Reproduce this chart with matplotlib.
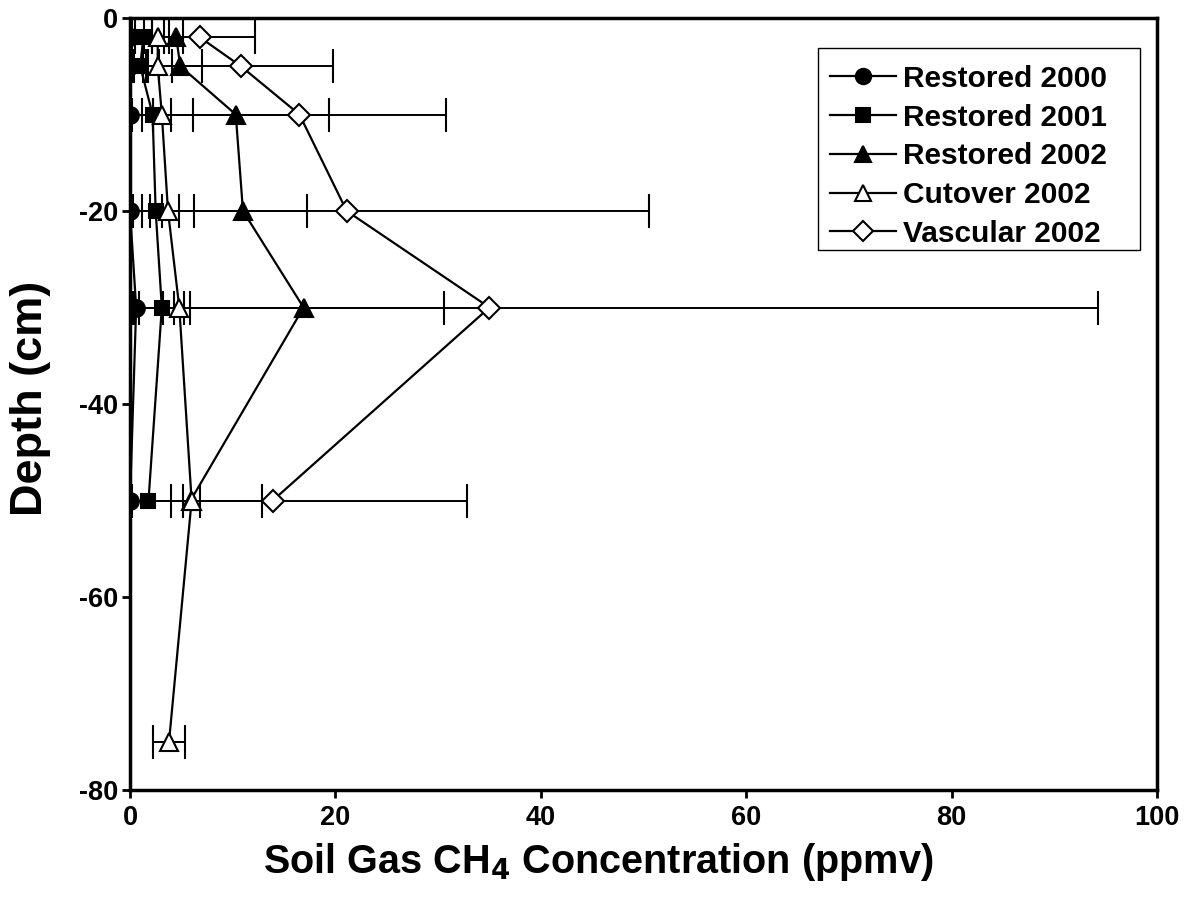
import matplotlib
matplotlib.use("Agg")
import matplotlib.pyplot as plt
from matplotlib.lines import Line2D
from matplotlib.patches import Rectangle

plt.rcParams['font.family'] = ['Liberation Sans', 'DejaVu Sans']
plt.rcParams['font.weight'] = 'bold'
plt.rcParams['axes.unicode_minus'] = False
plt.rcParams['mathtext.default'] = 'bf'

# Sampling depths (cm)
depth_main = [-2, -5, -10, -20, -30, -50]
depth_cutover = [-2, -5, -10, -20, -30, -50, -75]

# Mean CH4 concentration (ppmv) and error (+/-)
restored_2000 = [0.0, 0.0, 0.0, 0.0, 0.6, 0.0]
restored_2000_err = [0.2, 0.2, 0.2, 0.3, 0.3, 0.2]

restored_2001 = [1.3, 1.0, 2.2, 2.5, 3.1, 1.8]
restored_2001_err = [0.8, 0.6, 3.9, 0.6, 2.7, 2.2]

restored_2002 = [4.5, 4.9, 10.3, 11.0, 16.9, 5.9]
restored_2002_err = [0.7, 2.1, 9.1, 6.2, 13.7, 7.0]

cutover_2002 = [2.7, 2.7, 3.1, 3.7, 4.8, 6.0, 3.8]
cutover_2002_err = [0.6, 1.4, 0.9, 2.5, 0.5, 0.8, 1.6]

vascular_2002 = [6.8, 10.8, 16.5, 21.1, 35.0, 13.9]
vascular_2002_err = [5.4, 9.0, 14.3, 29.4, 59.3, 18.9]

series = [
    ("Restored 2000", restored_2000, restored_2000_err, depth_main, 'o', 'black', 12),
    ("Restored 2001", restored_2001, restored_2001_err, depth_main, 's', 'black', 10.5),
    ("Restored 2002", restored_2002, restored_2002_err, depth_main, '^', 'black', 12.5),
    ("Cutover 2002", cutover_2002, cutover_2002_err, depth_cutover, '^', 'white', 12.5),
    ("Vascular 2002", vascular_2002, vascular_2002_err, depth_main, 'D', 'white', 11.5),
]

W, H = 1196, 916
X0, X1, Y0, Y1 = 130, 1157, 18, 790   # axes box in pixels (left, right, top, bottom)


def ax_xy(px, py):
    """Pixel position on the figure -> axes fraction."""
    return (px - X0) / (X1 - X0), (Y1 - py) / (Y1 - Y0)


fig = plt.figure(figsize=(W / 100, H / 100), dpi=100)
ax = fig.add_axes([X0 / W, 1 - Y1 / H, (X1 - X0) / W, (Y1 - Y0) / H])

handles = []
for label, xs, errs, ys, mk, fc, ms in series:
    ax.errorbar(xs, ys, xerr=errs, color='black', lw=1.6, elinewidth=1.4,
                capsize=12, capthick=1.4, marker=mk, markersize=ms,
                markerfacecolor=fc, markeredgecolor='black', markeredgewidth=1.5,
                zorder=3)
    handles.append(Line2D([], [], color='black', lw=1.6, marker=mk, markersize=ms * 0.92,
                          markerfacecolor=fc, markeredgecolor='black',
                          markeredgewidth=1.5, label=label))

ax.set_xlim(0, 100)
ax.set_ylim(-80, 0)
ax.set_xticks([0, 20, 40, 60, 80, 100])
ax.set_yticks([0, -20, -40, -60, -80])
ax.tick_params(direction='out', length=6, width=2, labelsize=19.5)
ax.tick_params(axis='y', pad=2.5)
ax.tick_params(axis='x', pad=4.5)
for lab in ax.get_xticklabels() + ax.get_yticklabels():
    lab.set_fontweight('bold')
for sp in ax.spines.values():
    sp.set_linewidth(2.5)

ax.set_xlabel("Soil Gas CH$_4$ Concentration (ppmv)", fontsize=28.5,
              fontweight='bold')
ax.xaxis.set_label_coords(*ax_xy(598, 862))
ax.xaxis.label.set_va('center')
ax.set_ylabel("Depth (cm)", fontsize=32.5, fontweight='bold')
ax.yaxis.set_label_coords(*ax_xy(31, 398))
ax.yaxis.label.set_va('center')

# legend entries without their own frame; box drawn separately
leg = ax.legend(handles=handles, loc='upper left', bbox_to_anchor=ax_xy(815, 50),
                borderaxespad=0, frameon=False,
                handlelength=2.2, handletextpad=0.25, borderpad=0.5,
                labelspacing=0.36, prop={'weight': 'bold', 'size': 21.5})
bx0, by1 = ax_xy(818, 48)
bx1, by0 = ax_xy(1140, 250)
ax.add_patch(Rectangle((bx0, by0), bx1 - bx0, by1 - by0, transform=ax.transAxes,
                       facecolor='white', edgecolor='black', lw=1.0, zorder=4))
leg.set_zorder(5)

fig.savefig("out.png", dpi=100)
